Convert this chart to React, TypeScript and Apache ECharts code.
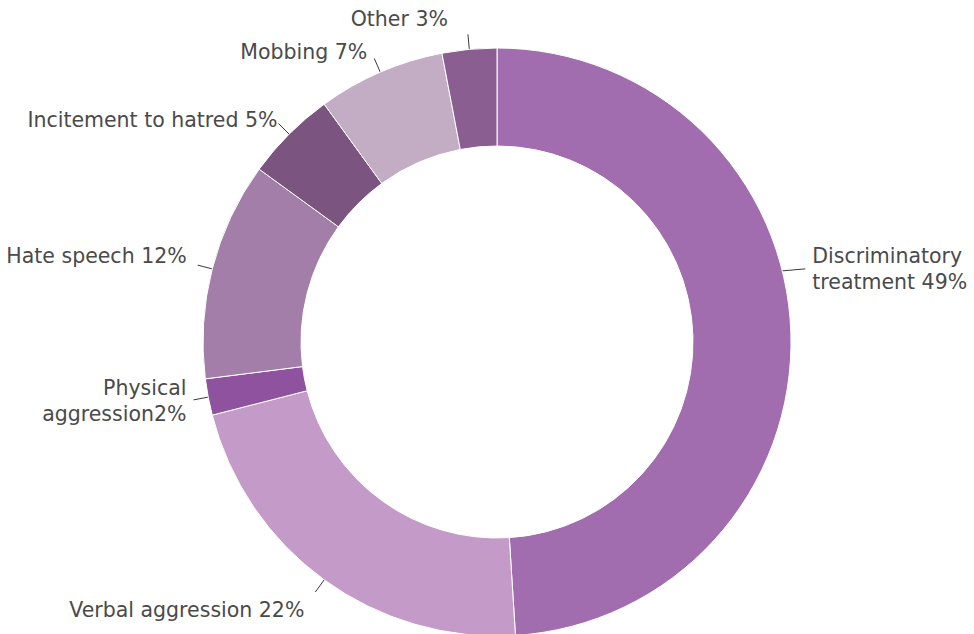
import React, { useEffect, useRef } from "react";
import * as echarts from "echarts";

const categories = [
  "Discriminatory\ntreatment 49%",
  "Verbal aggression 22%",
  "Physical\naggression2%",
  "Hate speech 12%",
  "Incitement to hatred 5%",
  "Mobbing 7%",
  "Other 3%",
];
const values = [49, 22, 2, 12, 5, 7, 3];
const colors = ["#A26DAE", "#C49AC8", "#8E529E", "#A27EA8", "#7B547F", "#C2ADC4", "#8A5E91"];
// label nudges [dx, dy] relative to the default outside position
const labelShift: [number, number][] = [
  [0, 0],
  [-6, 18],
  [-2, 1],
  [-6, -9],
  [4, -4],
  [-2, -6],
  [-15, -15],
];

const CX = 497;
const CY = 342;
const R_OUT = 294;
const R_IN = 196;

export default function App() {
  const ref = useRef<HTMLDivElement>(null);
  useEffect(() => {
    if (!ref.current) return;
    const chart = echarts.init(ref.current, undefined, { renderer: "svg" });
    chart.setOption({
      animation: false,
      backgroundColor: "#ffffff",
      series: [
        {
          type: "pie",
          center: [CX, CY],
          radius: [R_IN, R_OUT],
          startAngle: 90,
          clockwise: true,
          avoidLabelOverlap: false,
          itemStyle: { borderColor: "#ffffff", borderWidth: 1 },
          label: {
            show: true,
            formatter: "{b}",
            color: "#4a4a4a",
            fontSize: 20.5,
            lineHeight: 26,
            fontFamily: "DejaVu Sans",
            distanceToLabelLine: 5,
          },
          labelLine: {
            show: true,
            length: 15,
            length2: 0,
            smooth: false,
            lineStyle: { color: "#3a3a3a", width: 1 },
          },
          labelLayout: (params: any) => {
            if (params.dataIndex === 0) {
              const a = (76 * Math.PI) / 180;
              const sx = CX + R_OUT * Math.sin(a);
              const sy = CY - R_OUT * Math.cos(a);
              const ex = sx + 23;
              const ey = sy - 2;
              return {
                x: ex + 7,
                y: ey,
                align: "left",
                verticalAlign: "middle",
                labelLinePoints: [
                  [sx, sy],
                  [ex, ey],
                  [ex, ey],
                ],
              };
            }
            const s = labelShift[params.dataIndex];
            return {
              dx: s[0],
              dy: s[1],
              labelLinePoints: params.labelLinePoints,
            };
          },
          data: categories.map((name, i) => ({
            name,
            value: values[i],
            itemStyle: { color: colors[i] },
          })),
        },
      ],
    });
    return () => chart.dispose();
  }, []);
  return (
    <div
      ref={ref}
      style={{ position: "fixed", left: 0, top: 0, width: 974, height: 634 }}
    />
  );
}
